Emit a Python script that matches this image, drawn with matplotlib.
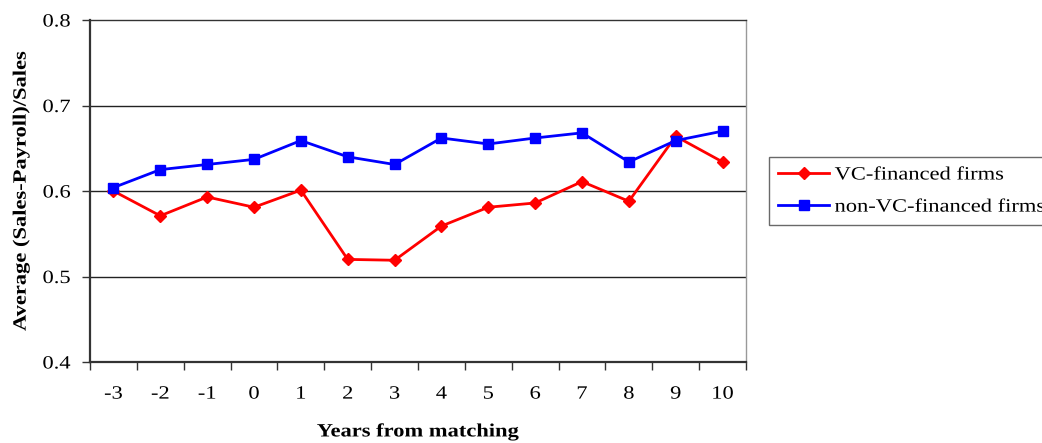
import matplotlib
matplotlib.use("Agg")
import matplotlib.pyplot as plt
from matplotlib.ticker import FixedLocator, NullFormatter
from matplotlib.patheffects import AbstractPathEffect
from matplotlib.transforms import Affine2D

years = ["-3", "-2", "-1", "0", "1", "2", "3", "4", "5", "6", "7", "8", "9", "10"]
vc = [0.600, 0.571, 0.593, 0.581, 0.601, 0.520, 0.519, 0.559, 0.581, 0.586, 0.611, 0.588, 0.664, 0.634]
non_vc = [0.604, 0.625, 0.631, 0.637, 0.659, 0.640, 0.631, 0.662, 0.655, 0.662, 0.668, 0.634, 0.659, 0.670]
yticks = [0.4, 0.5, 0.6, 0.7, 0.8]


class Stretch(AbstractPathEffect):
    """Widen glyphs along the text direction (the reference font is wide)."""
    def __init__(self, sx=1.2, anchor='center'):
        super().__init__()
        self.sx = sx
        self.anchor = anchor

    def draw_path(self, renderer, gc, tpath, affine, rgbFace=None):
        ext = tpath.get_extents()
        if self.anchor == 'right':
            cx = ext.x1
        elif self.anchor == 'left':
            cx = ext.x0
        else:
            cx = 0.5 * (ext.x0 + ext.x1)
        t = Affine2D().translate(-cx, 0).scale(self.sx, 1).translate(cx, 0) + affine
        renderer.draw_path(gc, tpath, t, rgbFace)


plt.rcParams['font.family'] = ['Liberation Serif', 'DejaVu Serif']
SX = 1.2
FS = 13.5

fig = plt.figure(figsize=(10.42, 4.43), dpi=100)
ax = fig.add_axes([90/1042, 1 - 362/443, (746-90)/1042, (362-20)/443])

x = list(range(len(years)))
ax.plot(x, vc, color='#ff0000', lw=2, marker='D', ms=6.5, label='VC-financed firms', zorder=3)
ax.plot(x, non_vc, color='#0000ff', lw=2, marker='s', ms=7.5, label='non-VC-financed firms', zorder=3)

ax.set_xlim(-0.5, len(years) - 0.5)
ax.set_ylim(0.4, 0.8)
ax.set_yticks(yticks)
ax.set_yticklabels([f"{v:.1f}" for v in yticks], fontsize=FS)
for v in yticks[1:-1]:
    ax.axhline(v, color='#222222', lw=1, zorder=1)

ax.xaxis.set_major_locator(FixedLocator([i - 0.5 for i in range(len(years) + 1)]))
ax.xaxis.set_major_formatter(NullFormatter())
ax.xaxis.set_minor_locator(FixedLocator(x))
ax.set_xticklabels(years, minor=True, fontsize=FS)
ax.tick_params(axis='x', which='minor', length=0, pad=17)
ax.tick_params(axis='x', which='major', length=6, width=1, direction='out', color='#333333')
ax.tick_params(axis='y', length=6, width=1, direction='out', color='#333333', pad=8)

for s in ['left', 'bottom']:
    ax.spines[s].set_color('#333333')
    ax.spines[s].set_linewidth(1.6)
ax.spines['top'].set_color('#333333')
ax.spines['top'].set_linewidth(1)
ax.spines['right'].set_color('#999999')
ax.spines['right'].set_linewidth(1)

xl = ax.set_xlabel('Years from matching', fontsize=FS, fontweight='bold', labelpad=15)
yl = ax.set_ylabel('Average (Sales-Payroll)/Sales', fontsize=FS, fontweight='bold', labelpad=12.5)

leg = fig.legend(loc='upper left',
                 bbox_to_anchor=(769/1042, 1 - 224/443, 0.4, (224-157)/443),
                 mode='expand', fontsize=13.5,
                 frameon=True, fancybox=False, edgecolor='#444444', handlelength=2.7,
                 borderaxespad=0, borderpad=0.5, labelspacing=0.8, handletextpad=0.3)
leg.get_frame().set_linewidth(1)

fig.canvas.draw()
for lab in ax.get_yticklabels():
    lab.set_path_effects([Stretch(SX, 'right')])
for lab in ax.get_xticklabels(minor=True):
    lab.set_path_effects([Stretch(SX, 'center')])
xl.set_path_effects([Stretch(SX, 'center')])
yl.set_path_effects([Stretch(SX, 'center')])
for t in leg.get_texts():
    t.set_path_effects([Stretch(SX, 'left')])

fig.savefig('out.png', dpi=100)
